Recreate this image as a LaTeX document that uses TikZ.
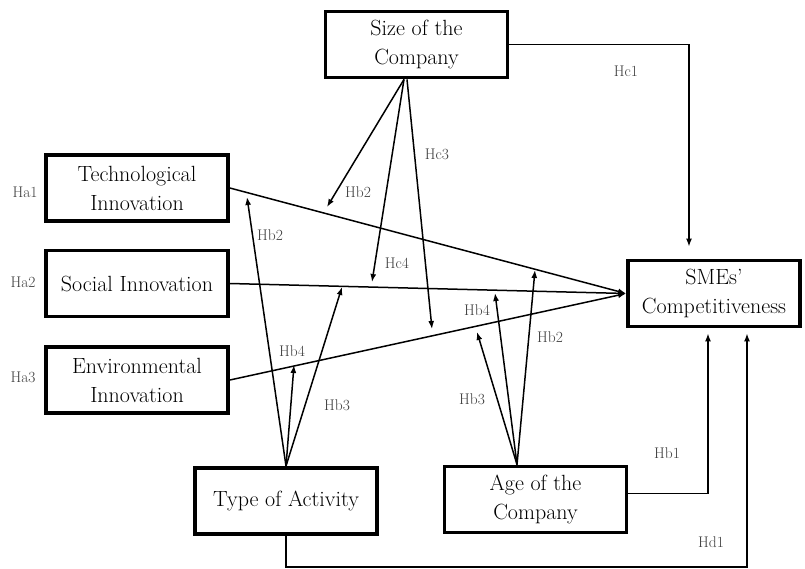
\documentclass[tikz,border=0pt]{standalone}
\usetikzlibrary{arrows.meta}
\begin{document}
\begin{tikzpicture}[x=1pt,y=-1pt,
	varbox/.style={draw,line width=3.8pt,minimum width=182pt,minimum height=66pt,align=center,inner sep=1pt,font=\fontsize{22}{29}\selectfont},
	hyp/.style={text=black!75,font=\fontsize{15.5}{17}\selectfont},
	link/.style={line width=1.5pt,-{Latex[length=8pt,width=6pt]}}]
	
	\useasboundingbox (0,0) rectangle (805,568);
	
	\node [varbox] (size) at (416.5,44.5) {Size of the\\Company};
	\node [varbox] (tech) at (137,188) {Technological\\Innovation};
	\node [varbox] (social) at (137,283.5) {Social Innovation};
	\node [varbox] (env) at (137,380) {Environmental\\Innovation};
	\node [varbox,minimum width=172pt] (smes) at (714,293.5) {SMEs'\\Competitiveness};
	\node [varbox] (type) at (286,501) {Type of Activity};
	\node [varbox] (age) at (535.5,499.5) {Age of the\\Company};
	
	\draw [link] (tech.east) -- (smes.west);
	\draw [link] (social.east) -- (smes.west);
	\draw [link] (env.east) -- (smes.west);
	
	\coordinate (sizefoot) at ([xshift=-12.5pt]size.south);
	\coordinate (sizetech) at (327,207);
	\coordinate (sizesocial) at (372,282);
	\coordinate (sizeenv) at (432,329);
	\draw [link] (sizefoot) -- (sizetech);
	\draw [link] (sizefoot) -- (sizesocial);
	\draw [link] ([xshift=3pt]sizefoot) -- (sizeenv);
	
	\coordinate (typetech) at (247,197);
	\coordinate (typeenv) at (294,365);
	\coordinate (typesocial) at (342,287);
	\draw [link] (type.north) -- (typetech);
	\draw [link] (type.north) -- (typeenv);
	\draw [link] (type.north) -- (typesocial);
	
	\coordinate (agefoot) at ([xshift=-18.5pt]age.north);
	\coordinate (ageenv) at (477,332);
	\coordinate (agesocial) at (495,293);
	\coordinate (agetech) at (535,270);
	\draw [link] (agefoot) -- (ageenv);
	\draw [link] (agefoot) -- (agesocial);
	\draw [link] (agefoot) -- (agetech);
	
	\draw [link] (size.east) -| ([xshift=-25pt,yshift=12pt]smes.north);
	\draw [link] ([yshift=6pt]age.east) -| ([xshift=-6pt,yshift=-5pt]smes.south);
	\draw [link] (type.south) -- ++(0,31) -| ([xshift=33pt,yshift=-5pt]smes.south);
	
	\node [hyp] (ha1) at (25,192) {Ha1};
	\node [hyp] (ha2) at (23,282) {Ha2};
	\node [hyp] (ha3) at (23,377) {Ha3};
	
	\node [hyp] (hc1) at (626,71) {Hc1};
	\node [hyp] (hc3) at (437,154) {Hc3};
	\node [hyp] (hc4) at (397,263) {Hc4};
	\node [hyp] (hbsize) at (358,192) {Hb2};
	
	\node [hyp] (hbtypetech) at (270,235) {Hb2};
	\node [hyp] (hbtypeenv) at (292,351) {Hb4};
	\node [hyp] (hbtypesocial) at (337,405) {Hb3};
	
	\node [hyp] (hbageenv) at (472,399) {Hb3};
	\node [hyp] (hbagesocial) at (477,310) {Hb4};
	\node [hyp] (hbagetech) at (550,337) {Hb2};
	
	\node [hyp] (hb1) at (667,453) {Hb1};
	\node [hyp] (hd1) at (711,542) {Hd1};
	
\end{tikzpicture}
\end{document}
